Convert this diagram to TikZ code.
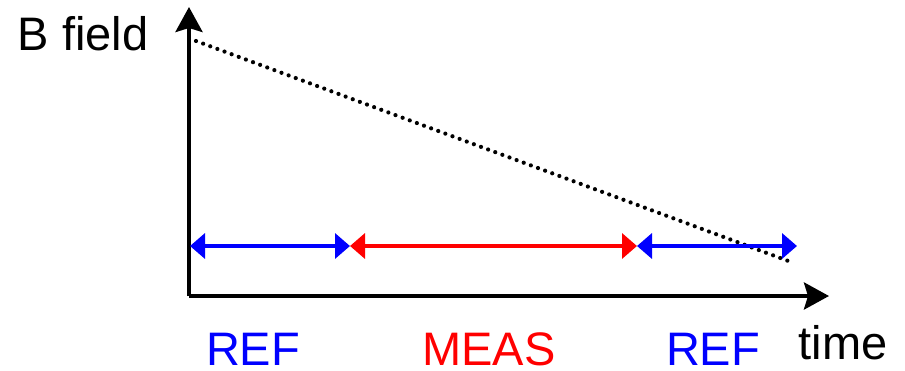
\documentclass[tikz,border=0pt]{standalone}
\usepackage{fontspec}
\setmainfont{Liberation Sans}
\usetikzlibrary{arrows.meta}

\begin{document}
\begin{tikzpicture}[x=1pt,y=-1pt,
    axis/.style={line width=4pt,-{Stealth[length=25pt,width=27pt,inset=4pt]}},
    span/.style={line width=3.5pt,{Triangle[length=15pt,width=25pt]}-{Triangle[length=15pt,width=25pt]}},
    lbl/.style={anchor=base,inner sep=0pt,text depth=0pt,font=\fontsize{47}{56}\selectfont}]
\useasboundingbox (0,0) rectangle (905,370);

\coordinate (o) at (189,296);
\coordinate (ytop) at (189,7);
\coordinate (xend) at (829,296);
\draw[axis] (o) -- (ytop);
\draw[axis] (o) -- (xend);

% decaying field
\coordinate (b0) at (196,41);
\coordinate (b1) at (791,262);
\draw[line width=4.2pt,line cap=round,dash pattern=on 0pt off 7.6pt] (b0) -- (b1);

% reference / measurement windows
\foreach \n/\x in {t0/190,t1/350,t2/637,t3/797}
{
    \coordinate (\n) at (\x,246);
}
\draw[span,blue] (t0) -- (t1);
\draw[span,red] (t1) -- (t2);
\draw[span,blue] (t2) -- (t3);

\foreach \n/\x/\c/\t in {ref1/253/blue/REF, meas/489/red/MEAS, ref2/713/blue/REF}
{
    \node[lbl,text=\c] (\n) at (\x,365) {\t};
}
\node[lbl] (time) at (843,359) {time};
\node[lbl] (bfield) at (83,50) {B field};
\end{tikzpicture}
\end{document}
